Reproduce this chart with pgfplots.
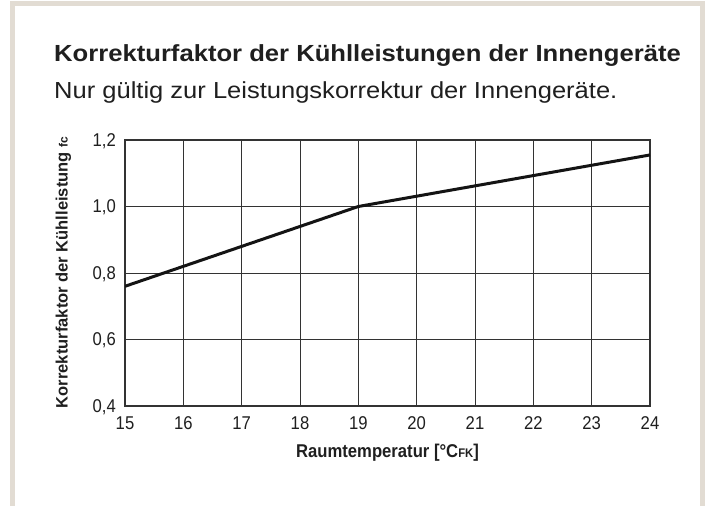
\documentclass[border=0pt]{standalone}
\usepackage{fontspec}
\setmainfont{Liberation Sans}
\newfontfamily\widefont[FakeStretch=1.1]{Liberation Sans}
\newfontfamily\condfont[FakeStretch=0.9]{Liberation Sans}
\usepackage{pgfplots}
\pgfplotsset{compat=1.18}
\definecolor{framebeige}{HTML}{E2DCD3}
\definecolor{axgray}{HTML}{333333}
\begin{document}
\begin{tikzpicture}[x=1bp,y=1bp]
\useasboundingbox (0,0) rectangle (709,506);
\fill[white] (0,0) rectangle (709,506);
% frame
\fill[framebeige] (9.5,0) rectangle (15,505);
\fill[framebeige] (9.5,499.5) rectangle (705,505);
\fill[framebeige] (699.5,0) rectangle (705,505);
% titles
\node[anchor=base west, inner sep=0, font=\widefont\bfseries\fontsize{23.3bp}{26bp}\selectfont, text=black!88] at (54,444.3) {Korrekturfaktor der Kühlleistungen der Innengeräte};
\node[anchor=base west, inner sep=0, font=\widefont\fontsize{23.2bp}{26bp}\selectfont, text=black!88] at (54,407.7) {Nur gültig zur Leistungskorrektur der Innengeräte.};
\begin{axis}[
  at={(125bp,100bp)}, anchor=south west,
  scale only axis, width=525bp, height=266bp,
  xmin=15, xmax=24, ymin=0.4, ymax=1.2,
  xtick={15,16,...,24}, ytick={0.4,0.6,0.8,1.0,1.2},
  grid=major,
  major grid style={axgray, line width=0.9bp},
  axis line style={axgray, line width=1.4bp},
  major tick length=0,
  /pgf/number format/assume math mode=true,
  yticklabel style={/pgf/number format/use comma, /pgf/number format/fixed, /pgf/number format/fixed zerofill, /pgf/number format/precision=1},
  ticklabel style={font=\condfont\fontsize{18.5bp}{20bp}\selectfont, text=black!88, inner sep=0pt},
  xticklabel style={anchor=base, yshift=-23.3bp},
  yticklabel style={anchor=base east, xshift=-9bp, yshift=-6.4bp},
]
\addplot[black!92, line width=3bp] coordinates {(15,0.76) (16,0.82) (17,0.88) (18,0.94) (19,1.0) (20,1.031) (21,1.062) (22,1.093) (23,1.124) (24,1.155)};
\end{axis}
\node[anchor=base, inner sep=0, font=\condfont\bfseries\fontsize{18.5bp}{20bp}\selectfont, text=black!88] at (387.5,48.7) {Raumtemperatur [°C{\fontsize{12.5bp}{12bp}\selectfont FK}]};
\node[anchor=base, rotate=90, inner sep=0, font=\bfseries\fontsize{16.5bp}{20bp}\selectfont, text=black!88] at (67.5,233.5) {Korrekturfaktor der Kühlleistung {\fontsize{12bp}{12bp}\selectfont fc}};
\end{tikzpicture}
\end{document}
